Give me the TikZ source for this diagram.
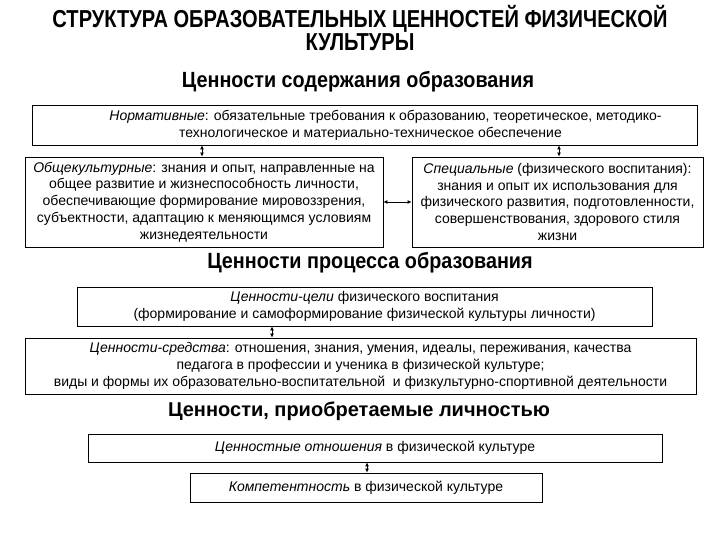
\documentclass[tikz,border=0pt]{standalone}
\usepackage{fontspec}
\setmainfont{Liberation Sans}
\newfontfamily\narrowfont{Liberation Sans}[FakeStretch=0.82]
\newfontfamily\semifont{Liberation Sans}[FakeStretch=0.9]
\usetikzlibrary{arrows.meta}
\begin{document}
\begin{tikzpicture}[x=1pt,y=1pt,
  box/.style={draw, line width=0.8pt, inner sep=0pt, align=center,
    font=\fontsize{14}{16.8}\selectfont},
  head/.style={font=\semifont\bfseries\fontsize{22}{24}\selectfont},
  link/.style={{Latex[length=4pt,width=4pt]}-{Latex[length=4pt,width=4pt]}, line width=0.8pt}]
\useasboundingbox (0,0) rectangle (720,540);
\fill[white] (0,0) rectangle (720,540);
% title
\node[align=center, font=\narrowfont\bfseries\fontsize{24.5}{23.5}\selectfont] (title) at (360,512)
  {СТРУКТУРА ОБРАЗОВАТЕЛЬНЫХ ЦЕННОСТЕЙ ФИЗИЧЕСКОЙ\\КУЛЬТУРЫ};
\node[head] (h1) at (358,458) {Ценности содержания образования};
% content boxes
\node[box, minimum width=665, minimum height=40] (norm) at (364.5,415)
  {\hspace*{42pt}\textit{Нормативные}: обязательные требования к образованию, теоретическое, методико-\\
   \hspace*{12pt}технологическое и материально-техническое обеспечение};
\node[box, minimum width=358, minimum height=90] (gen) at (204,338)
  {\textit{Общекультурные}: знания и опыт, направленные на\\
   общее развитие и жизнеспособность личности,\\
   обеспечивающие формирование мировоззрения,\\
   субъектности, адаптацию к меняющимся условиям\\
   жизнедеятельности};
\node[box, minimum width=291, minimum height=90] (spec) at (557.5,338)
  {\textit{Специальные} (физического воспитания):\\
   знания и опыт их использования для\\
   физического развития, подготовленности,\\
   совершенствования, здорового стиля\\
   жизни};
\coordinate (ax1) at (202,0);
\coordinate (ax2) at (559,0);
\draw[link] (norm.south -| ax1) -- (gen.north -| ax1);
\draw[link] (norm.south -| ax2) -- (spec.north -| ax2);
\draw[link] (gen.east) -- (spec.west);
% process
\node[head] (h2) at (370,277) {Ценности процесса образования};
\node[box, minimum width=575, minimum height=39] (goal) at (364.5,233.5)
  {\textit{Ценности-цели} физического воспитания\\
   (формирование и самоформирование физической культуры личности)};
\node[box, minimum width=671, minimum height=56] (means) at (360.5,174)
  {\textit{Ценности-средства}: отношения, знания, умения, идеалы, переживания, качества\\
   педагога в профессии и ученика в физической культуре;\\
   виды и формы их образовательно-воспитательной\ \ и физкультурно-спортивной деятельности};
\coordinate (ax3) at (272,0);
\draw[link] (goal.south -| ax3) -- (means.north -| ax3);
% personal
\node[font=\bfseries\fontsize{20}{22}\selectfont] (h3) at (359,129) {Ценности, приобретаемые личностью};
\node[box, minimum width=574, minimum height=28] (rel) at (375,92)
  {\textit{Ценностные отношения} в физической культуре};
\node[box, minimum width=352, minimum height=29] (comp) at (366,52.5)
  {\textit{Компетентность} в физической культуре};
\coordinate (ax4) at (367,0);
\draw[link] (rel.south -| ax4) -- (comp.north -| ax4);
\end{tikzpicture}
\end{document}
